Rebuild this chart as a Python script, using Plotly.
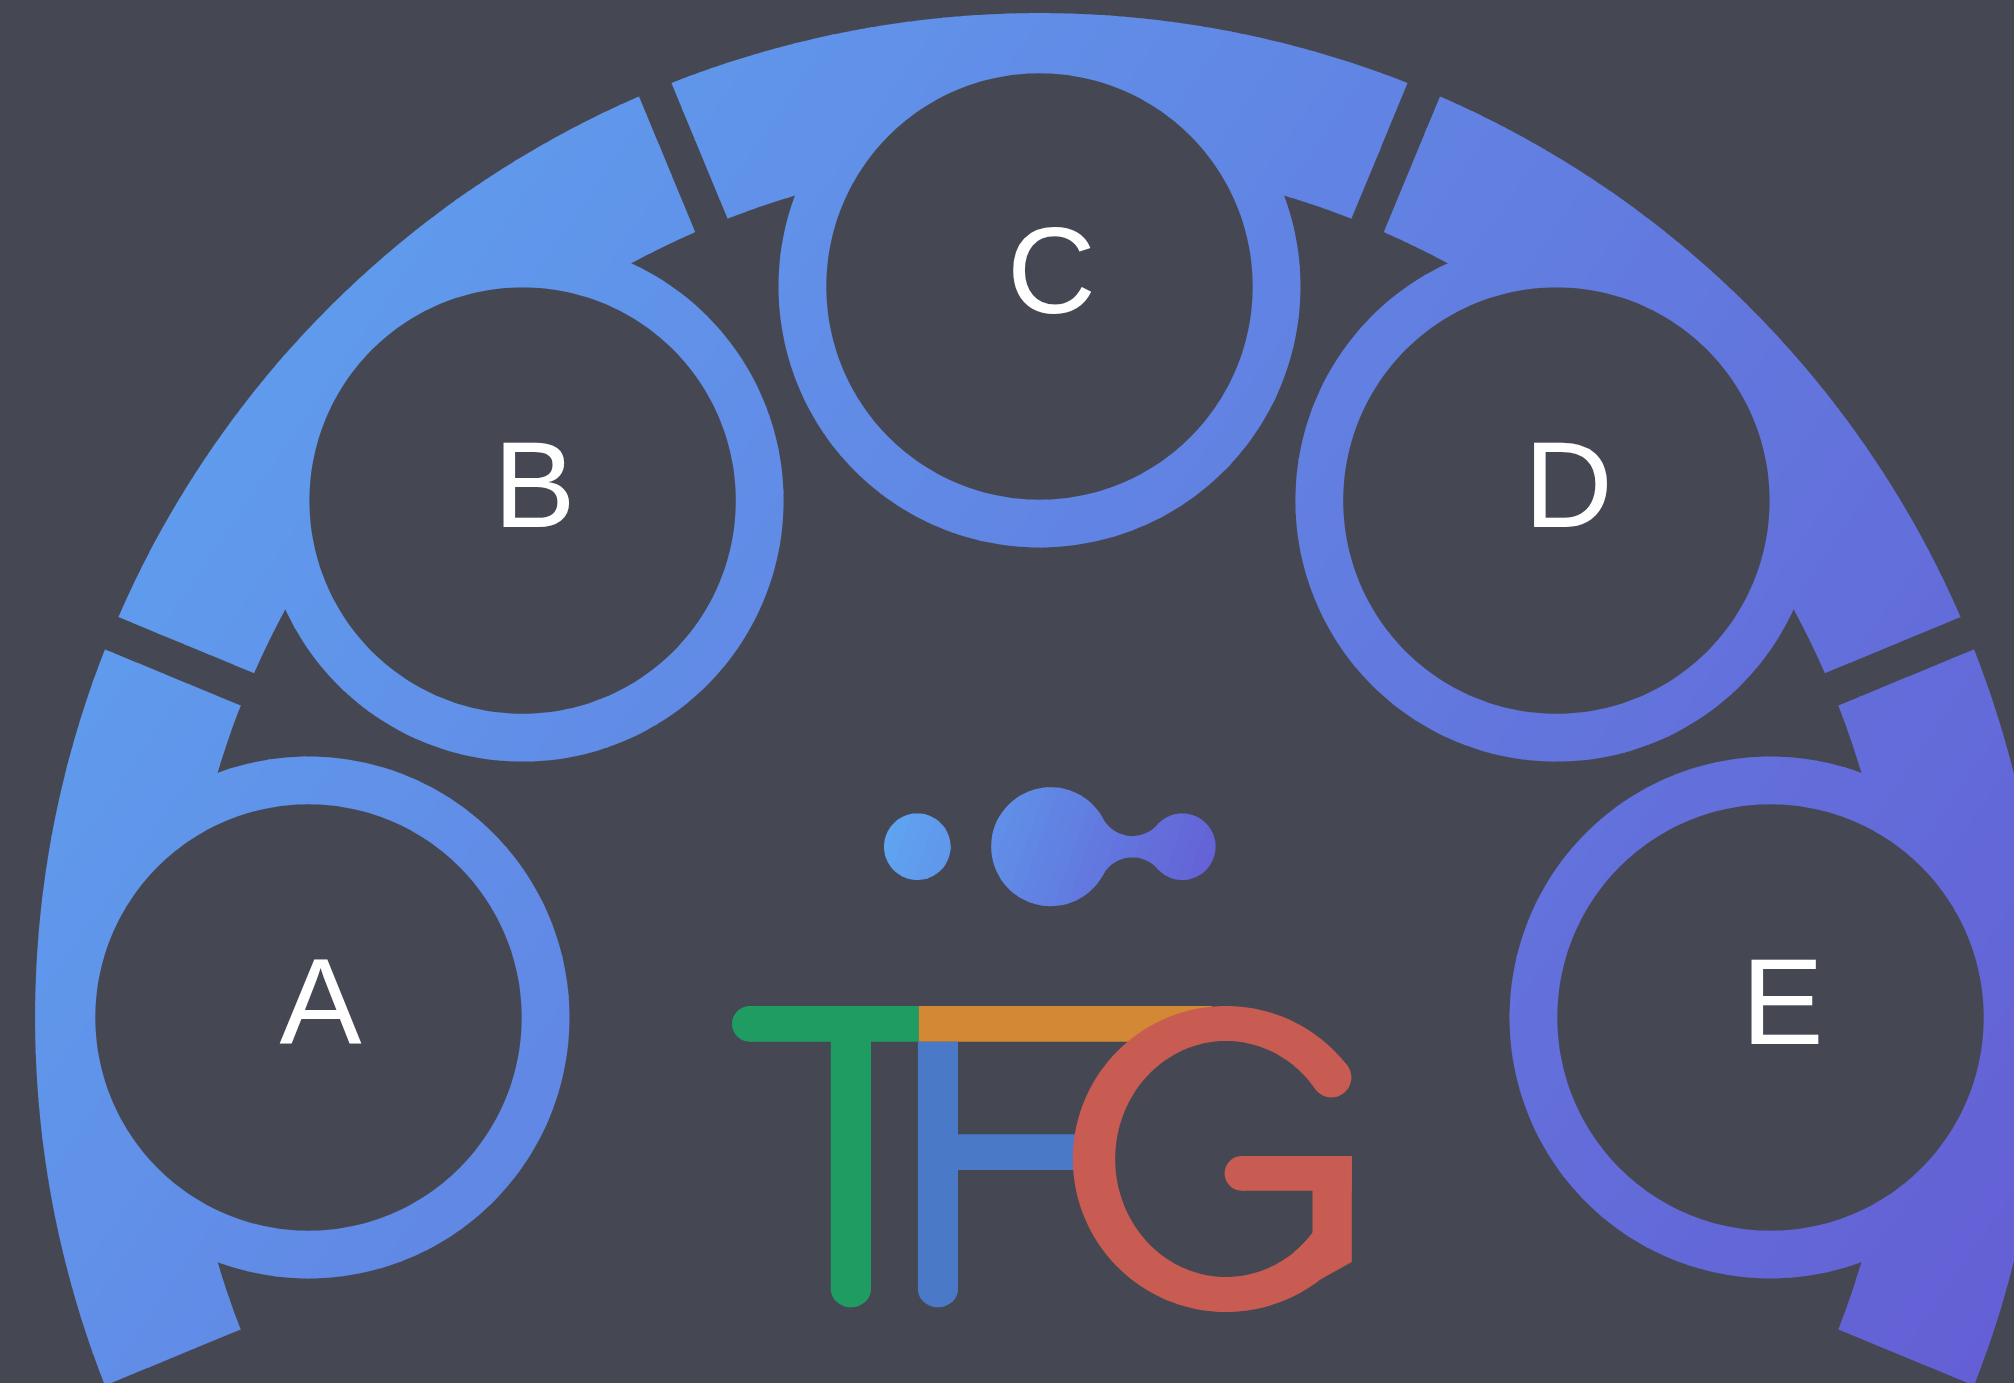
import math
import numpy as np
import plotly.graph_objects as go

# ---------------- data ----------------
labels = ['A', 'B', 'C', 'D', 'E']
node_angles_deg = [180, 135, 90, 45, 0]        # position of each node on the ring
segment_angles_deg = [180, 135, 90, 45, 0]     # centre angle of each ring segment
segment_span_deg = 45
gradient_stops = ['#5fa8f2', '#645ed4']
logo_letters = ['T', 'F', 'G']
logo_colors = {'green': '#1f9c62', 'orange': '#d38835', 'blue': '#4a79c8', 'red': '#c85c53'}

# ---------------- style / geometry ----------------
W, H = 2014, 1383
BG = '#454752'
CX, CY = 1039.5, 1017.5
R_OUT, R_IN = 1004.4, 857.5
GAP = 35.0
R_NODE = 731.0
NODE_OUT, NODE_IN = 261.0, 213.2
LABEL_DX, LABEL_DY = 12, -4


def hex2rgb(h):
    h = h.lstrip('#')
    return tuple(int(h[i:i + 2], 16) for i in (0, 2, 4))


C0, C1 = hex2rgb(gradient_stops[0]), hex2rgb(gradient_stops[1])


def lerp_col(t):
    t = min(max(t, 0.0), 1.0)
    r, g, b = (round(C0[i] + (C1[i] - C0[i]) * t) for i in range(3))
    return f'rgb({r},{g},{b})'


def arc(cx, cy, rx, ry, a0, a1, n):
    a = np.linspace(a0, a1, n)
    return list(zip(cx + rx * np.cos(a), cy - ry * np.sin(a)))


def circle(cx, cy, r, n=180, ry=None):
    ry = r if ry is None else ry
    return arc(cx, cy, r, ry, 0, 2 * math.pi * (n - 1) / n, n)


def rect(x0, y0, x1, y1):
    return [(x0, y0), (x1, y0), (x1, y1), (x0, y1)]


def clip(poly, a, b, c):
    """keep a*x + b*y + c >= 0"""
    out = []
    n = len(poly)
    for i in range(n):
        P = poly[i]
        Q = poly[(i + 1) % n]
        fp = a * P[0] + b * P[1] + c
        fq = a * Q[0] + b * Q[1] + c
        if fp >= 0:
            out.append(P)
        if (fp >= 0) != (fq >= 0):
            t = fp / (fp - fq)
            out.append((P[0] + t * (Q[0] - P[0]), P[1] + t * (Q[1] - P[1])))
    return out


def path_of(poly):
    return 'M' + 'L'.join(f'{x:.1f},{y:.1f}' for x, y in poly) + 'Z'


shapes = []


def add_solid(poly, color):
    shapes.append(dict(type='path', path=path_of(poly), xref='x', yref='y',
                       fillcolor=color, line=dict(width=0), layer='below'))


def add_gradient(poly, x0, y0, x1, y1, nb):
    # linear gradient along (x0,y0)->(x1,y1), drawn as thin solid bands
    dx, dy = x1 - x0, y1 - y0
    L2 = dx * dx + dy * dy
    a, b = dx / L2, dy / L2
    c = -(x0 * a + y0 * b)
    ts = [a * x + b * y + c for x, y in poly]
    tmin, tmax = min(ts), max(ts)
    eps = 1.5 / math.sqrt(L2)
    for k in range(nb):
        lo, hi = k / nb, (k + 1) / nb
        if k == 0:
            lo = -10
        if k == nb - 1:
            hi = 10
        if hi + eps < tmin or lo > tmax:
            continue
        p = clip(poly, a, b, c - lo)
        if len(p) < 3:
            continue
        p = clip(p, -a, -b, -(c - hi - eps))
        if len(p) < 3:
            continue
        add_solid(p, lerp_col((k + 0.5) / nb))


def canvas_gradient(poly):
    add_gradient(poly, 0, 0, W, H, 90)


# ---------------- big segmented ring ----------------
for phi in segment_angles_deg:
    a1 = math.radians(phi - segment_span_deg / 2)
    a2 = math.radians(phi + segment_span_deg / 2)
    do = math.asin(GAP / 2 / R_OUT)
    di = math.asin(GAP / 2 / R_IN)
    poly = arc(CX, CY, R_OUT, R_OUT, a1 + do, a2 - do, 220)
    poly += arc(CX, CY, R_IN, R_IN, a2 - di, a1 + di, 200)
    canvas_gradient(poly)

# ---------------- nodes ----------------
node_xy = []
for ang in node_angles_deg:
    a = math.radians(ang)
    node_xy.append((CX + R_NODE * math.cos(a), CY - R_NODE * math.sin(a)))

for (nx, ny) in node_xy:
    canvas_gradient(circle(nx, ny, NODE_OUT, 240))
for (nx, ny) in node_xy:
    add_solid(circle(nx, ny, NODE_IN, 240), BG)

# ---------------- logo dots ----------------
cy0 = 846.7
xd, rd = 917.3, 33.3
x1, r1 = 1050.7, 59.5
x2, r2 = 1182.3, 33.3
h = 10.7


def rn_of(xn):
    return ((xn - x1) ** 2 - r1 ** 2 + h ** 2) / (2 * (r1 - h))


def f_of(xn):
    rn = rn_of(xn)
    return (xn - x2) ** 2 - (r2 ** 2 - h ** 2 + 2 * rn * (r2 - h))


lo_x, hi_x = x1 + math.sqrt(r1 ** 2 - h ** 2) + 0.01, x2 - 0.01
for _ in range(80):
    mid = (lo_x + hi_x) / 2
    if f_of(mid) > 0:
        lo_x = mid
    else:
        hi_x = mid
xn = (lo_x + hi_x) / 2
rn = rn_of(xn)
Nu = (xn, cy0 - h - rn)
Nd = (xn, cy0 + h + rn)


def towards(cx_, cy_, r, P):
    vx, vy = P[0] - cx_, P[1] - cy_
    d = math.hypot(vx, vy)
    return (cx_ + r * vx / d, cy_ + r * vy / d)


T1u = towards(x1, cy0, r1, Nu)
T1d = towards(x1, cy0, r1, Nd)
T2u = towards(x2, cy0, r2, Nu)
T2d = towards(x2, cy0, r2, Nd)


def sarc(cx_, cy_, r, a0, a1, n):
    a = np.linspace(a0, a1, n)
    return list(zip(cx_ + r * np.cos(a), cy_ + r * np.sin(a)))


blob = []
al = math.atan2(T1u[1] - cy0, T1u[0] - x1)
blob += sarc(x1, cy0, r1, al, -al - 2 * math.pi, 160)
ta = math.atan2(T1d[1] - Nd[1], T1d[0] - Nd[0])
tb = math.atan2(T2d[1] - Nd[1], T2d[0] - Nd[0])
blob += sarc(Nd[0], Nd[1], rn, ta, tb, 40)
gd = math.atan2(T2d[1] - cy0, T2d[0] - x2)
blob += sarc(x2, cy0, r2, gd, -gd, 100)
tc = math.atan2(T2u[1] - Nu[1], T2u[0] - Nu[0])
td = math.atan2(T1u[1] - Nu[1], T1u[0] - Nu[0])
blob += sarc(Nu[0], Nu[1], rn, tc, td, 40)

bx0, by0, bx1, by1 = xd - rd, cy0 - r1, x2 + r2, cy0 + r1
add_gradient(circle(xd, cy0, rd, 120), bx0, by0, bx1, by1, 30)
add_gradient(blob, bx0, by0, bx1, by1, 30)

# ---------------- TFG wordmark ----------------
G_, O_, B_, R_ = logo_colors['green'], logo_colors['orange'], logo_colors['blue'], logo_colors['red']
# T (green)
add_solid(rect(749.9, 1006, 918.8, 1041.7), G_)
add_solid(circle(749.9, 1023.85, 17.9, 60, 17.85), G_)
add_solid(rect(830.8, 1041, 871, 1289), G_)
add_solid(circle(850.9, 1289, 20.1, 60, 18.3), G_)
# F (orange top, blue body)
add_solid(rect(918.8, 1006, 1212, 1041.7), O_)
add_solid(rect(917.9, 1041.7, 958, 1289), B_)
add_solid(circle(937.95, 1289, 20.05, 60, 18.3), B_)
add_solid(rect(957, 1134.3, 1090, 1170), B_)
# G (red)
gcx, gcy = 1226.0, 1159.0
rxo, ryo, rxi, ryi = 153.2, 153.0, 110.8, 118.0
t1, t2 = math.radians(37), math.radians(322)
gpoly = arc(gcx, gcy, rxo, ryo, t1, t2, 200) + arc(gcx, gcy, rxi, ryi, t2, t1, 200)
add_solid(gpoly, R_)
ta5 = math.radians(-52)
xbar_l, xbar_r, ybar_t, ybar_b = 1312.5, 1351.8, 1156, 1262
tin = -math.acos((xbar_l - gcx) / rxi)
corner = [(gcx + rxo * math.cos(ta5), gcy - ryo * math.sin(ta5)),
          (xbar_r, ybar_b), (xbar_r, ybar_t), (xbar_l, ybar_t)]
corner += arc(gcx, gcy, rxi, ryi, tin, ta5, 20)
add_solid(corner, R_)
add_solid(rect(1242, 1156, 1351.8, 1190.7), R_)
add_solid(circle(1242, 1173.35, 17.4, 60, 17.35), R_)
ox, oy = gcx + rxo * math.cos(t1), gcy - ryo * math.sin(t1)
ix, iy = gcx + rxi * math.cos(t1), gcy - ryi * math.sin(t1)
cr = math.hypot(ox - ix, oy - iy) / 2
add_solid(circle((ox + ix) / 2, (oy + iy) / 2, cr, 60), R_)

# ---------------- figure ----------------
fig = go.Figure()
fig.add_trace(go.Scatter(
    x=[p[0] + LABEL_DX for p in node_xy],
    y=[p[1] + LABEL_DY for p in node_xy],
    mode='text', text=labels, textposition='middle center',
    textfont=dict(family='Liberation Sans, Arial, sans-serif', size=123, color='white'),
    hoverinfo='skip', showlegend=False,
))
fig.update_layout(
    width=W, height=H,
    margin=dict(l=0, r=0, t=0, b=0),
    paper_bgcolor=BG, plot_bgcolor=BG,
    xaxis=dict(range=[0, W], visible=False, fixedrange=True),
    yaxis=dict(range=[H, 0], visible=False, fixedrange=True),
    shapes=shapes,
    showlegend=False,
)
fig.write_html(
    'out.html',
    config={'displayModeBar': False},
    post_script="document.body.style.margin='0';document.body.style.overflow='hidden';"
                "document.body.style.background='%s';" % BG,
)
